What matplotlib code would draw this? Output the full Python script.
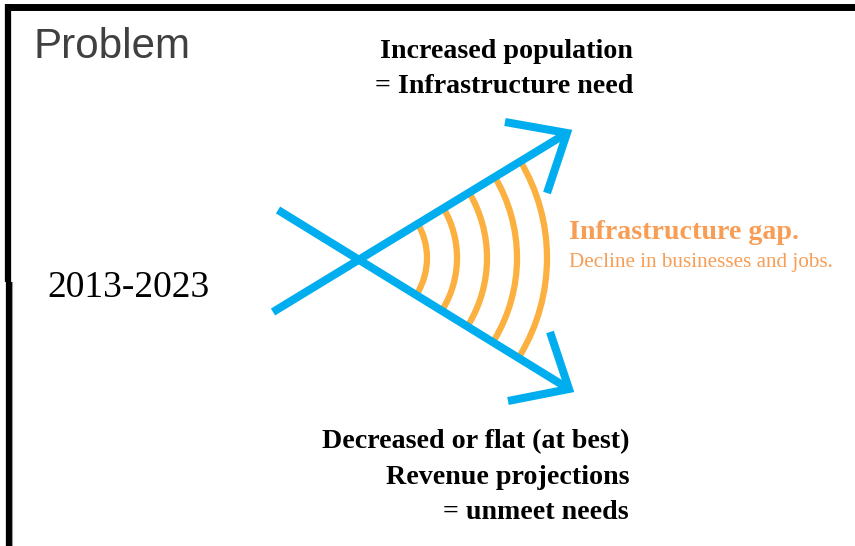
"""Problem diagram: diverging arrows with an infrastructure gap."""

import numpy as np
import matplotlib.pyplot as plt
from matplotlib.patches import Arc

# Texts
title = "Problem"
period = "2013-2023"
upper_lines = ["Increased population", "= Infrastructure need"]
lower_lines = ["Decreased or flat (at best)", "Revenue projections", "= unmeet needs"]
gap_title = "Infrastructure gap."
gap_note = "Decline in businesses and jobs."

# Diagram geometry (pixel coordinates, y down)
cross = (358, 258)
rising_line = [(273, 312), (567, 133)]
falling_line = [(278, 210), (569, 389)]
rising_head = [(505, 122), (567, 133), (547, 193)]
falling_head = [(550, 332), (569, 389), (508, 401)]
arc_radii = [69, 99, 129, 159, 189]
arc_half_angle = 31

W, H = 855, 546
BLUE = "#00AEEF"
ARC = "#FBB040"
ORANGE = "#F89D55"

fig = plt.figure(figsize=(W / 100, H / 100), dpi=100)
ax = fig.add_axes([0, 0, 1, 1])
ax.set_xlim(0, W)
ax.set_ylim(H, 0)
ax.axis("off")

# Frame (top and left edges only)
ax.plot([5, W], [6.5, 6.5], color="black", lw=5, solid_capstyle="butt")
ax.plot([8, 8], [4, 282], color="black", lw=4.5, solid_capstyle="butt")
ax.plot([9, 9], [282, H], color="black", lw=4.5, solid_capstyle="butt")
ax.plot([12, 12], [282, H], color="#999999", lw=0.8)

# Gap arcs
for r in arc_radii:
    ax.add_patch(Arc(cross, 2 * r, 2 * r, theta1=-arc_half_angle, theta2=arc_half_angle,
                     color=ARC, lw=4.5, zorder=2))

# Arrows
for line, head in [(rising_line, rising_head), (falling_line, falling_head)]:
    xs, ys = zip(*line)
    ax.plot(xs, ys, color=BLUE, lw=5.8, solid_capstyle="butt", zorder=3)
    hx, hy = zip(*head)
    ax.plot(hx, hy, color=BLUE, lw=5.8, solid_capstyle="butt",
            solid_joinstyle="miter", zorder=3)

# Labels
ax.text(33, 58, title, family="Liberation Sans", fontsize=30.3, color="#404040", va="baseline")
ax.text(47, 297, period, family="Liberation Serif", fontsize=27, color="black", va="baseline")

for txt, y in zip(upper_lines, [58, 93]):
    ax.text(633, y, txt, family="Liberation Serif", fontweight="bold", fontsize=20.2,
            ha="right", va="baseline")
for txt, y in zip(lower_lines, [448, 484, 519]):
    ax.text(629, y, txt, family="Liberation Serif", fontweight="bold", fontsize=20.2,
            ha="right", va="baseline")

ax.text(569, 239, gap_title, family="Liberation Serif", fontweight="bold", fontsize=20.2,
        color=ORANGE, va="baseline")
ax.text(569, 267, gap_note, family="Liberation Serif", fontsize=15.2,
        color=ORANGE, va="baseline")

fig.savefig("out.png", dpi=100)
